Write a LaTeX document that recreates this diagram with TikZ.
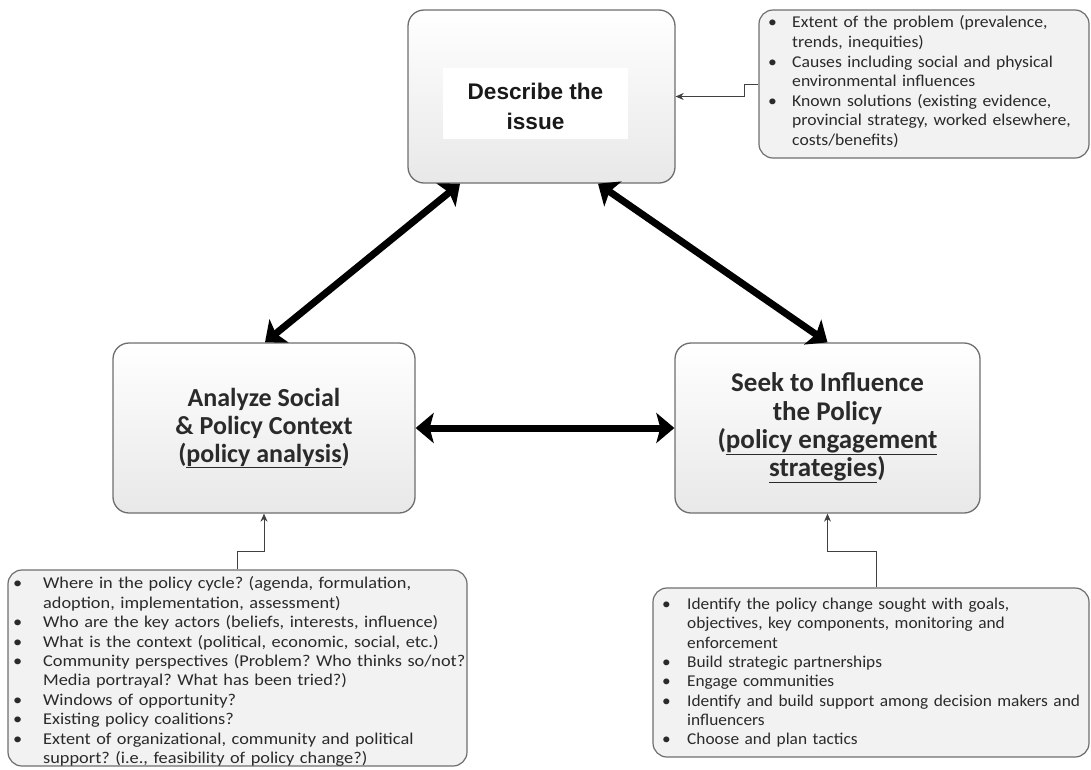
\documentclass[tikz,border=0pt]{standalone}
\usepackage{fontspec}
\setmainfont{Carlito}
\newfontfamily\arialfont{Liberation Sans}
\newfontfamily\noteA[FakeStretch=1.07]{Carlito}
\newfontfamily\noteB[FakeStretch=1.11]{Carlito}
\newfontfamily\noteC[FakeStretch=1.05]{Carlito}
\usetikzlibrary{arrows.meta}
\frenchspacing
\definecolor{boxline}{HTML}{6E6E6E}
\definecolor{txt}{HTML}{2A2A2A}
\newcommand\bitem[1]{\par\noindent\hangindent=#1\hangafter=1\hbox to #1{\textbullet\hfil}}
\newcommand\nl{\hfil\break}
\tikzset{
  mainbox/.style={draw=boxline, line width=1.3pt, rounded corners=16pt, top color=white, bottom color=black!9,
    align=center, text=txt, inner sep=0pt},
  notebox/.style={draw=boxline, line width=1.2pt, rounded corners=14pt, fill=black!5, inner sep=0pt},
  notetext/.style={anchor=north west, inner sep=0pt, align=left, text=txt},
  toptext/.style={align=center, text=black!90, font=\fontsize{22.6}{30}\selectfont\arialfont\bfseries, inner sep=0pt},
  bigarrow/.style={line width=7pt, {Stealth[length=18pt,width=30pt,inset=4pt]}-{Stealth[length=18pt,width=30pt,inset=4pt]}},
  conn/.style={draw=black!75, line width=1pt, -{Stealth[length=8pt,width=7pt]}}
}
\begin{document}
\begin{tikzpicture}[x=1pt,y=-1pt]
\useasboundingbox (0,0) rectangle (1091,769);
\setlength\parskip{0pt}
% main boxes
\node[mainbox, minimum width=267pt, minimum height=173pt] (top) at (541.5,96.5) {};
\node[fill=white, minimum width=185pt, minimum height=71pt, inner sep=0pt] (topin) at (535.5,103.5) {};
\node[toptext] (toplbl) at ([yshift=-3pt]topin.center) {Describe the\\issue};
\node[mainbox, minimum width=302pt, minimum height=170pt, font=\fontsize{26}{28}\selectfont\bfseries] (left) at (264,428)
  {Analyze Social\\\& Policy Context\\(\underline{policy analysis})};
\node[mainbox, minimum width=305pt, minimum height=170pt, font=\fontsize{27}{28.3}\selectfont\bfseries] (right) at (827.5,428)
  {Seek to Influence\\the Policy\\(\underline{policy engagement}\\\underline{strategies})};
% note boxes
\node[notebox, minimum width=330pt, minimum height=148pt] (n1) at (924,84) {};
\node[notetext, text width=330pt, font=\fontsize{16.5}{19.6}\selectfont\noteA] (t1) at (768,8) {%
\bitem{24pt}Extent of the problem (prevalence,\nl trends, inequities)
\bitem{24pt}Causes including social and physical\nl environmental influences
\bitem{24pt}Known solutions (existing evidence,\nl provincial strategy, worked elsewhere,\nl costs/benefits)\par};
\node[notebox, minimum width=459pt, minimum height=196pt] (n2) at (237.5,668) {};
\node[notetext, text width=500pt, font=\fontsize{16.5}{19.45}\selectfont\noteB] (t2) at (13,569) {%
\bitem{30pt}Where in the policy cycle? (agenda, formulation,\nl adoption, implementation, assessment)
\bitem{30pt}Who are the key actors (beliefs, interests, influence)
\bitem{30pt}What is the context (political, economic, social, etc.)
\bitem{30pt}Community perspectives (Problem? Who thinks so/not?\nl Media portrayal? What has been tried?)
\bitem{30pt}Windows of opportunity?
\bitem{30pt}Existing policy coalitions?
\bitem{30pt}Extent of organizational, community and political\nl support? (i.e., feasibility of policy change?)\par};
\node[notebox, minimum width=436pt, minimum height=169pt] (n3) at (871,672.5) {};
\node[notetext, text width=450pt, font=\fontsize{16.5}{19.3}\selectfont\noteC] (t3) at (662,590) {%
\bitem{25pt}Identify the policy change sought with goals,\nl objectives, key components, monitoring and\nl enforcement
\bitem{25pt}Build strategic partnerships
\bitem{25pt}Engage communities
\bitem{25pt}Identify and build support among decision makers and\nl influencers
\bitem{25pt}Choose and plan tactics\par};
% big arrows
\draw[bigarrow] ([xshift=-81.5pt]top.south) -- ([xshift=1pt]left.north);
\draw[bigarrow] ([xshift=56.5pt]top.south) -- (right.north);
\draw[bigarrow] (left.east) -- (right.west);
% connectors
\draw[conn] (n1.west) -- ++(-14,0) |- (top.east);
\draw[conn] (n2.north) -- ++(0,-18) -| (left.south);
\draw[conn] ([xshift=5.5pt]n3.north) -- ++(0,-36) -| (right.south);
\end{tikzpicture}
\end{document}
